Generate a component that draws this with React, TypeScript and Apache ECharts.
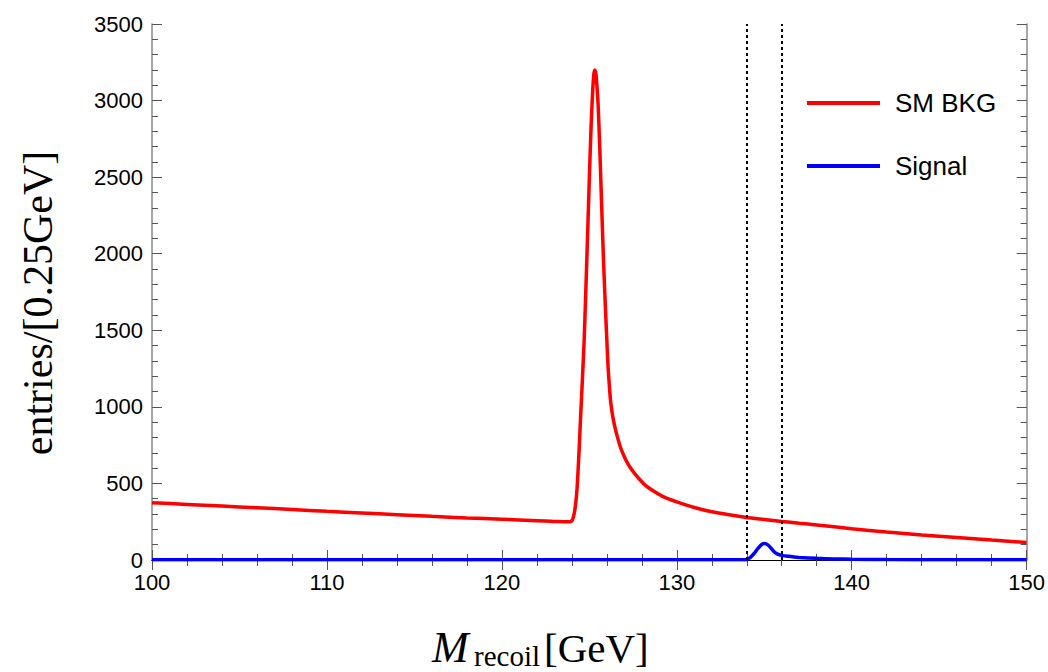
import React, { useEffect, useRef } from "react";
import * as echarts from "echarts";

// ---- data ----
const seriesNames = ["SM BKG", "Signal"];
const seriesColors = ["#ff0000", "#0000ff"];

const bkgX = [100, 102, 104, 106, 108, 110, 112, 114, 116, 118, 120, 122, 123, 123.5, 123.8, 123.9, 124.0, 124.1, 124.2, 124.3, 124.4, 124.5, 124.6, 124.7, 124.8, 124.9, 125.0, 125.1, 125.2, 125.25, 125.3, 125.35, 125.4, 125.5, 125.6, 125.7, 125.8, 125.9, 126.0, 126.07, 126.15, 126.21, 126.35, 126.55, 126.84, 127.31, 128.08, 128.6, 129.22, 130, 131, 132, 133, 134, 135, 136, 137, 138, 140, 142, 144, 146, 148, 150];
const bkgY = [374, 363, 352, 341, 330, 318, 307, 296, 285, 275, 266, 257, 252, 250, 249, 250, 256, 285, 350, 470, 680, 930, 1170, 1420, 1760, 2120, 2490, 2830, 3080, 3165, 3200, 3190, 3150, 2980, 2680, 2330, 1990, 1700, 1440, 1263, 1130, 1045, 930, 827, 718, 609, 501, 455, 414, 380, 343, 315, 295, 278, 265, 252, 240, 229, 204, 183, 164, 147, 130, 114];

const sigX = [100, 120, 133.9, 134.0, 134.15, 134.3, 134.45, 134.6, 134.75, 134.9, 135.0, 135.1, 135.25, 135.4, 135.55, 135.7, 135.85, 136.0, 136.15, 136.3, 136.6, 137, 138, 139, 140, 142, 145, 150];
const sigY = [1, 1, 1, 3, 12, 28, 47, 70, 90, 104, 108, 106, 95, 76, 56, 43, 35, 30, 27, 25, 21, 17, 11, 7, 5, 3, 2, 1];

const cutLines = [134, 136];

const xMin = 100, xMax = 150, xInterval = 10;
const yMin = 0, yMax = 3500, yInterval = 500;

const yTitle = "entries/[0.25GeV]";
const xTitleMain = "M";
const xTitleSub = "recoil";
const xTitleUnit = "[GeV]";

const zip = (xs: number[], ys: number[]) => xs.map((x, i) => [x, ys[i]]);

export default function App() {
  const ref = useRef<HTMLDivElement>(null);
  useEffect(() => {
    if (!ref.current) return;
    const chart = echarts.init(ref.current, undefined, { renderer: "svg" });
    const labelFont = "'Liberation Sans', Arial, Helvetica, sans-serif";
    const serif = "'Liberation Serif', 'Times New Roman', serif";
    const baseX = {
      type: "value",
      min: xMin,
      max: xMax,
      interval: xInterval,
      splitLine: { show: false },
      axisTick: { inside: true, length: 10, lineStyle: { color: "#555", width: 1 } },
      minorTick: { show: true, splitNumber: 5, length: 6, lineStyle: { color: "#555", width: 1 } },
    };
    const baseY = {
      type: "value",
      min: yMin,
      max: yMax,
      interval: yInterval,
      splitLine: { show: false },
      axisTick: { inside: true, length: 10, lineStyle: { color: "#555", width: 1 } },
      minorTick: { show: true, splitNumber: 5, length: 6, lineStyle: { color: "#555", width: 1 } },
    };
    chart.setOption({
      animation: false,
      grid: { left: 152, right: 21, top: 24, bottom: 112, containLabel: false },
      xAxis: [
        {
          ...baseX,
          position: "bottom",
          axisLine: { show: true, lineStyle: { color: "#000", width: 1 } },
          axisLabel: {
            color: "#000",
            fontSize: 22,
            lineHeight: 16,
            fontFamily: labelFont,
            margin: 14,
            formatter: (v: number) => String(v),
          },
        },
        {
          ...baseX,
          position: "top",
          axisLine: { show: true, lineStyle: { color: "#000", width: 1 } },
          axisLabel: { show: false },
        },
      ],
      yAxis: [
        {
          ...baseY,
          position: "left",
          axisLine: { show: true, lineStyle: { color: "#888", width: 1.5 } },
          axisLabel: {
            color: "#000",
            fontSize: 22,
            lineHeight: 16,
            fontFamily: labelFont,
            margin: 9,
            formatter: (v: number) => String(v),
          },
        },
        {
          ...baseY,
          position: "right",
          axisLine: { show: true, lineStyle: { color: "#888", width: 1.5 } },
          axisLabel: { show: false },
        },
      ],
      legend: {
        orient: "vertical",
        left: 807,
        top: 88,
        padding: 0,
        icon: "rect",
        itemWidth: 73,
        itemHeight: 4,
        itemGap: 33,
        data: seriesNames,
        textStyle: {
          color: "#000",
          fontSize: 26,
          fontFamily: labelFont,
          lineHeight: 30,
          padding: [0, 0, 0, 10],
        },
      },
      series: [
        {
          name: seriesNames[0],
          type: "line",
          data: zip(bkgX, bkgY),
          showSymbol: false,
          symbol: "none",
          smooth: 0.2,
          lineStyle: { color: seriesColors[0], width: 3.5 },
          itemStyle: { color: seriesColors[0] },
          z: 3,
        },
        {
          name: seriesNames[1],
          type: "line",
          data: zip(sigX, sigY),
          showSymbol: false,
          symbol: "none",
          smooth: 0.2,
          lineStyle: { color: seriesColors[1], width: 3.5 },
          itemStyle: { color: seriesColors[1] },
          z: 4,
          markLine: {
            silent: true,
            symbol: ["none", "none"],
            label: { show: false },
            lineStyle: { color: "#000", width: 2, type: [3, 3] },
            data: cutLines.map((v) => ({ xAxis: v })),
          },
        },
      ],
      graphic: [
        {
          type: "text",
          x: 38,
          y: 303,
          rotation: Math.PI / 2,
          style: {
            text: yTitle,
            font: `42px ${serif}`,
            fill: "#000",
            align: "center",
            verticalAlign: "middle",
          },
        },
        {
          type: "text",
          x: 432,
          y: 647,
          style: {
            text: xTitleMain,
            font: `italic 44px ${serif}`,
            fill: "#000",
            align: "left",
            verticalAlign: "middle",
          },
        },
        {
          type: "text",
          x: 474,
          y: 656,
          style: {
            text: xTitleSub,
            font: `29px ${serif}`,
            fill: "#000",
            align: "left",
            verticalAlign: "middle",
          },
        },
        {
          type: "text",
          x: 544,
          y: 648,
          style: {
            text: xTitleUnit,
            font: `41px ${serif}`,
            fill: "#000",
            align: "left",
            verticalAlign: "middle",
          },
        },
      ],
    });
    return () => chart.dispose();
  }, []);
  return (
    <div
      ref={ref}
      style={{ position: "absolute", left: 0, top: 0, width: 1048, height: 672, background: "#fff" }}
    />
  );
}
